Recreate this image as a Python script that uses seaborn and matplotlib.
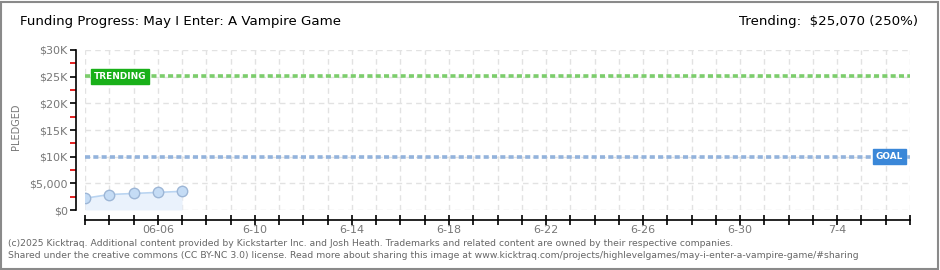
import matplotlib
matplotlib.use("Agg")
import matplotlib.pyplot as plt
import matplotlib.dates as mdates
import matplotlib.ticker as mticker
import seaborn as sns
import pandas as pd
import numpy as np

# ---- data ----
dates = ["2025-06-03", "2025-06-04", "2025-06-05", "2025-06-06", "2025-06-07"]
pledged = [2200, 2900, 3100, 3300, 3500]
goal = 10000
trending = 25070
x_start, x_end = "2025-06-03", "2025-07-07"
tick_label_dates = ["2025-06-06", "2025-06-10", "2025-06-14", "2025-06-18",
                    "2025-06-22", "2025-06-26", "2025-06-30", "2025-07-04"]
tick_labels = ["06-06", "6-10", "6-14", "6-18", "6-22", "6-26", "6-30", "7-4"]
y_ticks = [0, 5000, 10000, 15000, 20000, 25000, 30000]
y_labels = ["$0", "$5,000", "$10K", "$15K", "$20K", "$25K", "$30K"]

df = pd.DataFrame({"date": pd.to_datetime(dates), "pledged": pledged})

sns.set_theme(style="white")
plt.rcParams["font.family"] = ["DejaVu Sans"]

W, H = 940, 270
fig = plt.figure(figsize=(W / 100, H / 100), dpi=100)
fig.patch.set_facecolor("white")

# figure border
fig.add_artist(plt.Rectangle((1 / W, 1 / H), 1 - 3 / W, 1 - 3 / H, transform=fig.transFigure,
                             fill=False, edgecolor="#8a8a8a", linewidth=1.5))

ax = fig.add_axes([85 / W, 60 / H, 825 / W, 160 / H])
ax.set_facecolor("none")

x0, x1 = pd.Timestamp(x_start), pd.Timestamp(x_end)
ax.set_xlim(x0, x1)
ax.set_ylim(0, 30000)

# grid
all_days = pd.date_range(x0, x1, freq="D")
for d in all_days:
    ax.axvline(d, color="#e2e2e2", lw=1, ls=(0, (4, 3)), zorder=0)
for yv in y_ticks:
    ax.axhline(yv, color="#e2e2e2", lw=1, ls=(0, (4, 3)), zorder=0)

# area + line + markers
ax.fill_between(df["date"], 0, df["pledged"], color="#eaf2fc", zorder=1, lw=0)
sns.lineplot(data=df, x="date", y="pledged", ax=ax, color="#b9d4f1", lw=1.2,
             marker="o", markersize=7.5, markerfacecolor="#c5dcf5",
             markeredgecolor="#9db6d6", markeredgewidth=1, zorder=3)

# goal and trending lines
ax.axhline(trending, color="#7ccd6c", lw=2.6, ls=(0, (1.4, 0.9)), zorder=2)
ax.axhline(goal, color="#93b3dc", lw=2.6, ls=(0, (1.4, 0.9)), zorder=2)

ax.text(pd.Timestamp("2025-06-03") + pd.Timedelta(hours=9), trending, "TRENDING",
        color="white", fontsize=6.4, fontweight="bold", va="center", ha="left", zorder=5,
        bbox=dict(boxstyle="square,pad=0.32", fc="#19b019", ec="#19b019"))
ax.text(pd.Timestamp("2025-07-07") - pd.Timedelta(hours=7), goal, "GOAL",
        color="white", fontsize=6.4, fontweight="bold", va="center", ha="right", zorder=5,
        bbox=dict(boxstyle="square,pad=0.32", fc="#3a87d8", ec="#3a87d8"))

# axes
sns.despine(ax=ax, top=True, right=True)
ax.spines["left"].set_position(("outward", 6.5))
ax.spines["bottom"].set_position(("outward", 7.2))
for s in ["left", "bottom"]:
    ax.spines[s].set_color("black")
    ax.spines[s].set_linewidth(1.2)

ax.yaxis.set_major_locator(mticker.FixedLocator(y_ticks))
ax.set_yticklabels(y_labels)
ax.yaxis.set_minor_locator(mticker.FixedLocator(list(range(2500, 30000, 5000))))
ax.tick_params(axis="y", which="major", direction="out", length=4, width=1.2,
               color="black", labelsize=8, labelcolor="#777777", pad=2, left=True)
ax.tick_params(axis="y", which="minor", direction="out", length=4, width=1.3,
               color="#e01010", left=True)

ax.xaxis.set_major_locator(mticker.FixedLocator(mdates.date2num(pd.to_datetime(tick_label_dates))))
ax.set_xticklabels(tick_labels)
ax.xaxis.set_minor_locator(mticker.FixedLocator(mdates.date2num(all_days)))
ax.tick_params(axis="x", which="both", direction="inout", length=7, width=1.2,
               color="black", labelsize=8, labelcolor="#777777", bottom=True, pad=0)

ax.set_xlabel("")
ax.set_ylabel("PLEDGED", color="#777777", fontsize=7, labelpad=8)
ax.yaxis.set_label_coords(-64 / 825, 0.52)

# titles
fig.text(20 / W, 1 - 22 / H, "Funding Progress: May I Enter: A Vampire Game",
         fontsize=9.6, color="black", va="center", ha="left")
fig.text(918 / W, 1 - 22 / H, "Trending:  $25,070 (250%)",
         fontsize=9.6, color="black", va="center", ha="right")

# footer
fig.text(8 / W, 1 - 243 / H,
         "(c)2025 Kicktraq. Additional content provided by Kickstarter Inc. and Josh Heath. "
         "Trademarks and related content are owned by their respective companies.",
         fontsize=6.65, color="#666666", va="center", ha="left")
fig.text(8 / W, 1 - 256 / H,
         "Shared under the creative commons (CC BY-NC 3.0) license. Read more about sharing this image at "
         "www.kicktraq.com/projects/highlevelgames/may-i-enter-a-vampire-game/#sharing",
         fontsize=6.65, color="#666666", va="center", ha="left")

fig.savefig("out.png", dpi=100, facecolor="white")
